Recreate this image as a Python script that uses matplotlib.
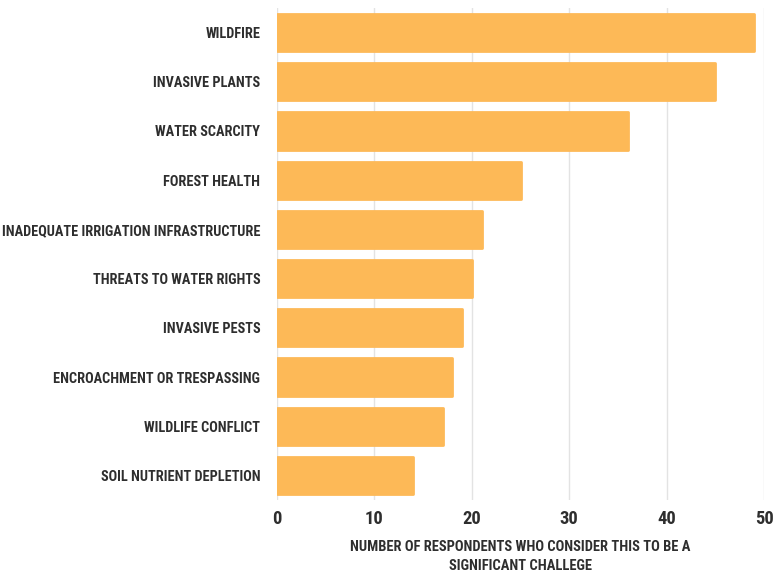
import matplotlib
matplotlib.use("Agg")
import matplotlib.pyplot as plt
from matplotlib import font_manager
from matplotlib.font_manager import FontProperties

categories = ["WILDFIRE", "INVASIVE PLANTS", "WATER SCARCITY", "FOREST HEALTH",
              "INADEQUATE IRRIGATION INFRASTRUCTURE", "THREATS TO WATER RIGHTS",
              "INVASIVE PESTS", "ENCROACHMENT OR TRESPASSING", "WILDLIFE CONFLICT",
              "SOIL NUTRIENT DEPLETION"]
values = [49, 45, 36, 25, 21, 20, 19, 18, 17, 14]
xticks = [0, 10, 20, 30, 40, 50]
xlabel = "NUMBER OF RESPONDENTS WHO CONSIDER THIS TO BE A\nSIGNIFICANT CHALLEGE"

# find a condensed / narrow font file if any is installed
files = [f.fname for f in font_manager.fontManager.ttflist]
prefs = ["RobotoCondensed-Bold", "Roboto_Condensed-Bold", "OpenSans_Condensed-Bold",
         "OpenSansCondensed-Bold", "NotoSans-CondensedBold", "LiberationSansNarrow-Bold",
         "DejaVuSansCondensed-Bold"]
chosen = None
for p in prefs:
    for fn in files:
        if p.lower() in fn.lower().replace(" ", ""):
            chosen = fn
            break
    if chosen:
        break
if chosen is None:
    for fn in files:
        low = fn.lower()
        if ("condensed" in low or "narrow" in low) and "bold" in low:
            chosen = fn
            break

def fp(size):
    if chosen:
        return FontProperties(fname=chosen, size=size)
    return FontProperties(family="DejaVu Sans", weight="bold", size=size)

fig = plt.figure(figsize=(7.73, 5.72), dpi=100)
ax = fig.add_axes([277/773, 1-500/572, (764-277)/773, (500-8)/572])

y = list(range(len(categories)))
ax.barh(y, values, height=0.755, color="#FDB957", edgecolor="#FDB957",
        linewidth=2, joinstyle="round", zorder=3)
ax.set_ylim(len(categories)-0.5, -0.5)
ax.set_xlim(0, 50)
ax.set_xticks(xticks)
ax.set_yticks(y)
ax.tick_params(axis='both', length=0)
ax.xaxis.grid(True, color="#e3e3e3", linewidth=1, zorder=0)
for s in ax.spines.values():
    s.set_visible(False)

# measure the longest label to fit the reference width (~255 px)
renderer = fig.canvas.get_renderer()
t = fig.text(0, 0, categories[4], fontproperties=fp(12))
w = t.get_window_extent(renderer).width
t.remove()
size = 12 * 257.0 / w

ax.set_yticklabels(categories, fontproperties=fp(size), color="#2e2e2e")
ax.set_xticklabels([str(v) for v in xticks], fontproperties=fp(size * 1.3), color="#2e2e2e")
ax.tick_params(axis='y', pad=12)
ax.tick_params(axis='x', pad=7)
ax.set_xlabel(xlabel, fontproperties=fp(size * 1.02), color="#2e2e2e",
              labelpad=9, linespacing=1.45)
fig.savefig("out.png", dpi=100, facecolor="white")
